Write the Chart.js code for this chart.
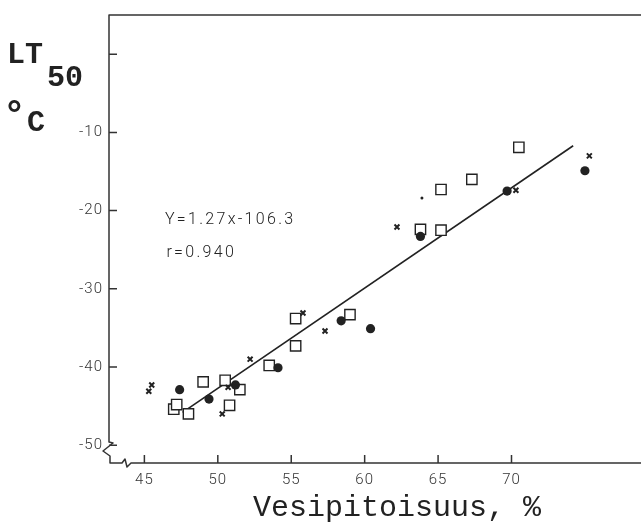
<!DOCTYPE html>
<html>
<head>
<meta charset="utf-8">
<script src="https://cdn.jsdelivr.net/npm/chart.js@4.4.1/dist/chart.umd.min.js"></script>
<style>
  html, body { margin: 0; padding: 0; background: #fff; overflow: hidden; }
  #wrap { width: 660px; height: 523px; }
</style>
</head>
<body>
<div id="wrap"><canvas id="myChart" width="660" height="523"></canvas></div>
<script>
// filled circles
var circleX = [47.4, 49.4, 51.2, 54.1, 58.4, 60.4, 63.8, 69.7, 75.0];
var circleY = [-42.9, -44.1, -42.3, -40.1, -34.1, -35.1, -23.3, -17.5, -14.9];
// open squares
var squareX = [47.0, 47.2, 48.0, 49.0, 50.5, 50.8, 51.5, 53.5, 55.3, 55.3, 59.0, 63.8, 65.2, 65.2, 67.3, 70.5];
var squareY = [-45.4, -44.8, -46.0, -41.9, -41.7, -44.9, -42.9, -39.8, -37.3, -33.8, -33.3, -22.4, -22.5, -17.3, -16.0, -11.9];
// crosses
var crossX = [45.3, 45.5, 50.3, 50.7, 52.2, 55.8, 57.3, 62.2, 70.3, 75.3];
var crossY = [-43.1, -42.3, -46.0, -42.6, -39.0, -33.1, -35.4, -22.1, -17.4, -13.0];
// stray small dot
var dotX = [63.9];
var dotY = [-18.4];
// regression line end points
var fitX = [47.6, 74.2];
var fitY = [-45.8, -11.7];

var xTicks = [45, 50, 55, 60, 65, 70];
var xTickLabels = ['45', '50', '55', '60', '65', '70'];
var yTicks = [0, -10, -20, -30, -40, -50];
var yTickLabels = ['', '-10', '-20', '-30', '-40', '-50'];

var equationText = 'Y=1.27x-106.3';
var rText = 'r=0.940';
var xTitle = 'Vesipitoisuus, %';

function pts(xs, ys) {
    var out = [];
    for (var i = 0; i < xs.length; i++) {
        out.push({ x: xs[i], y: ys[i] });
    }
    return out;
}

var ink = '#222';
var tickFont = { family: "Roboto", size: 15, weight: '300' };

// frame with axis breaks, inward ticks, and the text pieces
var framePlugin = {
    id: 'frame',
    beforeDraw: function (chart) {
        chart.ctx.letterSpacing = '1px';
    },
    beforeDatasetsDraw: function (chart) {
        var ctx = chart.ctx;
        var a = chart.chartArea;
        var L = a.left, B = a.bottom;
        ctx.save();
        ctx.strokeStyle = '#333';
        ctx.lineWidth = 1.5;
        ctx.lineJoin = 'round';
        ctx.beginPath();
        ctx.moveTo(a.right, a.top);
        ctx.lineTo(L, a.top);
        ctx.lineTo(L, B - 21);
        ctx.lineTo(L + 4, B - 20);
        ctx.lineTo(L - 6, B - 12);
        ctx.lineTo(L + 1, B - 7);
        ctx.lineTo(L + 1, B);
        ctx.lineTo(L + 13, B);
        ctx.lineTo(L + 16, B - 4);
        ctx.lineTo(L + 18, B + 4);
        ctx.lineTo(L + 22, B);
        ctx.lineTo(a.right, B);
        ctx.stroke();

        var xs = chart.scales.x, ys = chart.scales.y;
        ctx.beginPath();
        xTicks.forEach(function (v) {
            var px = xs.getPixelForValue(v);
            ctx.moveTo(px, B);
            ctx.lineTo(px, B - 8);
        });
        yTicks.forEach(function (v) {
            var py = ys.getPixelForValue(v);
            ctx.moveTo(L, py);
            ctx.lineTo(L + 8, py);
        });
        ctx.stroke();

        // equation
        ctx.fillStyle = ink;
        ctx.font = "300 16px Roboto";
        ctx.textBaseline = 'middle';
        ctx.textAlign = 'left';
        ctx.letterSpacing = '2.3px';
        ctx.fillText(equationText, xs.getPixelForValue(46.4), ys.getPixelForValue(-21.2));
        ctx.fillText(rText, xs.getPixelForValue(46.5), ys.getPixelForValue(-25.4));

        // axis titles
        ctx.letterSpacing = '0px';
        ctx.fillStyle = ink;
        ctx.textBaseline = 'alphabetic';
        ctx.font = "bold 30px 'Liberation Mono'";
        ctx.fillText('LT', 7, 63);
        ctx.fillText('50', 47, 86);
        ctx.fillText('C', 27, 131);
        ctx.font = "bold 38px 'Liberation Mono'";
        ctx.fillText('\u00b0', 3, 127);
        ctx.font = "30px 'Liberation Mono'";
        ctx.textAlign = 'center';
        ctx.fillText(xTitle, 397, 516);
        ctx.restore();
    }
};

var ctx = document.getElementById('myChart').getContext('2d');
var myChart = new Chart(ctx, {
    type: 'scatter',
    data: {
        datasets: [
            {
                type: 'line',
                data: pts(fitX, fitY),
                borderColor: ink,
                borderWidth: 1.6,
                pointRadius: 0,
                fill: false,
                order: 10
            },
            {
                data: pts(squareX, squareY),
                pointStyle: 'rect',
                pointRadius: 7.3,
                backgroundColor: '#fff',
                borderColor: ink,
                borderWidth: 1.4,
                order: 3
            },
            {
                data: pts(crossX, crossY),
                pointStyle: 'crossRot',
                pointRadius: 3.5,
                borderColor: ink,
                borderWidth: 2,
                order: 2
            },
            {
                data: pts(circleX, circleY),
                pointStyle: 'circle',
                pointRadius: 4.6,
                backgroundColor: ink,
                borderWidth: 0,
                order: 1
            },
            {
                data: pts(dotX, dotY),
                pointStyle: 'circle',
                pointRadius: 1.5,
                backgroundColor: ink,
                borderWidth: 0,
                order: 1
            }
        ]
    },
    plugins: [framePlugin],
    options: {
        responsive: false,
        animation: false,
        layout: { padding: { top: 11, left: 0, right: 0, bottom: 0 } },
        plugins: {
            legend: { display: false },
            tooltip: { enabled: false }
        },
        scales: {
            x: {
                type: 'linear',
                min: 42.59,
                max: 79.52,
                grid: { display: false, drawTicks: false },
                border: { display: false },
                afterBuildTicks: function (s) {
                    s.ticks = xTicks.map(function (v) { return { value: v }; });
                },
                afterFit: function (s) { s.height = 60; },
                ticks: {
                    padding: 8,
                    color: '#333',
                    font: tickFont,
                    maxRotation: 0,
                    callback: function (v) {
                        var i = xTicks.indexOf(v);
                        return i < 0 ? '' : xTickLabels[i];
                    }
                }
            },
            y: {
                type: 'linear',
                min: -52.28,
                max: 5.02,
                grid: { display: false, drawTicks: false },
                border: { display: false },
                afterBuildTicks: function (s) {
                    s.ticks = yTicks.map(function (v) { return { value: v }; });
                },
                afterFit: function (s) { s.width = 109; },
                ticks: {
                    padding: 6,
                    color: '#333',
                    font: tickFont,
                    callback: function (v) {
                        var i = yTicks.indexOf(v);
                        return i < 0 ? '' : yTickLabels[i];
                    }
                }
            }
        }
    }
});
</script>
</body>
</html>
